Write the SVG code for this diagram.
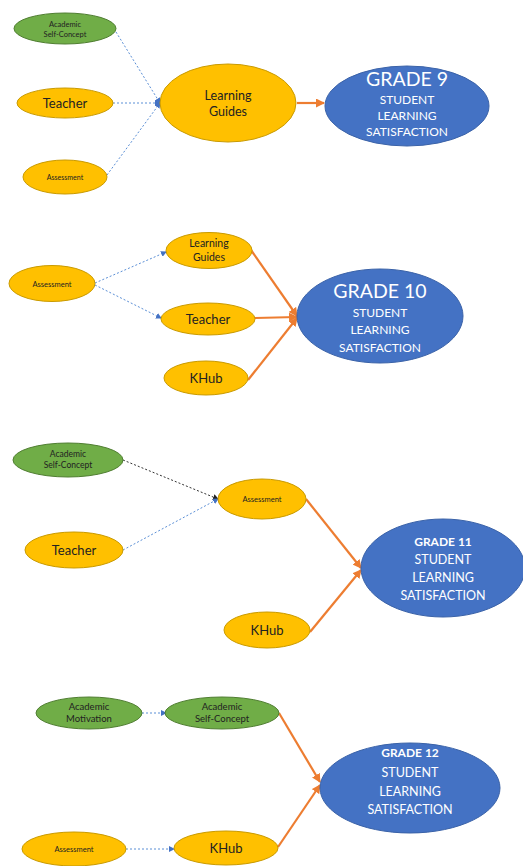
<svg xmlns="http://www.w3.org/2000/svg" width="523" height="866" viewBox="0 0 523 866">
<style>
.y{fill:#FFC000;stroke:#C99A00;stroke-width:1}
.g{fill:#70AD47;stroke:#507E32;stroke-width:1}
.b{fill:#4472C4;stroke:#3A62A8;stroke-width:1}
text{font-family:Lato,"Open Sans","Liberation Sans",sans-serif;text-anchor:middle;fill:#222}
.w{fill:#fff}
.dot{fill:none;stroke:#5B8FD6;stroke-width:1;stroke-dasharray:2 2}
.dk{fill:none;stroke:#333;stroke-width:1;stroke-dasharray:2 2}
.or{fill:none;stroke:#ED7D31;stroke-width:2.2}
</style>
<defs>
<marker id="ab" markerWidth="6" markerHeight="6" refX="5" refY="3" orient="auto" markerUnits="userSpaceOnUse"><path d="M0,0 L6,3 L0,6 Z" fill="#4472C4"/></marker>
<marker id="ak" markerWidth="6" markerHeight="6" refX="5" refY="3" orient="auto" markerUnits="userSpaceOnUse"><path d="M0,0 L6,3 L0,6 Z" fill="#222"/></marker>
<marker id="ao" markerWidth="9" markerHeight="9" refX="8" refY="4.5" orient="auto" markerUnits="userSpaceOnUse"><path d="M0,0 L9,4.5 L0,9 Z" fill="#ED7D31"/></marker>
</defs>

<g id="connectors">
<path class="dot" d="M116,32 L160,103" marker-end="url(#ab)"/>
<path class="dot" d="M113,103 L160,103" marker-end="url(#ab)"/>
<path class="dot" d="M107,175 L160,103" marker-end="url(#ab)"/>
<path class="or" d="M297,103 L324,103" marker-end="url(#ao)"/>
<path class="dot" d="M95,283 L166,252" marker-end="url(#ab)"/>
<path class="dot" d="M95,285 L161,318" marker-end="url(#ab)"/>
<path class="or" d="M251,250 L297,316" marker-end="url(#ao)"/>
<path class="or" d="M255,318 L297,317" marker-end="url(#ao)"/>
<path class="or" d="M248,380 L297,318" marker-end="url(#ao)"/>
<path class="dk" d="M123,460 L218,499" marker-end="url(#ak)"/>
<path class="dot" d="M123,550 L218,499" marker-end="url(#ab)"/>
<path class="or" d="M306,499 L361,568" marker-end="url(#ao)"/>
<path class="or" d="M310,632 L361,570" marker-end="url(#ao)"/>
<path class="dot" d="M142,713 L166,713" marker-end="url(#ab)"/>
<path class="dot" d="M126,849 L174,849" marker-end="url(#ab)"/>
<path class="or" d="M279,713 L320,782" marker-end="url(#ao)"/>
<path class="or" d="M278,847 L320,785" marker-end="url(#ao)"/>
</g>

<g id="g9-asc"><ellipse class="g" cx="65" cy="28.5" rx="51" ry="15.5"/><text x="65" y="27" font-size="7.5">Academic</text><text x="65" y="37" font-size="7.5">Self-Concept</text></g>
<g id="g9-teacher"><ellipse class="y" cx="65" cy="103" rx="48" ry="15"/><text x="65" y="107.5" font-size="13">Teacher</text></g>
<g id="g9-assessment"><ellipse class="y" cx="65" cy="177" rx="42" ry="17"/><text x="65" y="180" font-size="7">Assessment</text></g>
<g id="g9-lg"><ellipse class="y" cx="228" cy="103" rx="68" ry="39"/><text x="228" y="100" font-size="12.5">Learning</text><text x="228" y="116" font-size="12.5">Guides</text></g>
<g id="g9-grade"><ellipse class="b" cx="407" cy="106" rx="82" ry="40"/><text class="w" x="407" y="86" font-size="19.5">GRADE 9</text><text class="w" x="407" y="104" font-size="12">STUDENT</text><text class="w" x="407" y="120" font-size="12">LEARNING</text><text class="w" x="407" y="136" font-size="12">SATISFACTION</text></g>

<g id="g10-assessment"><ellipse class="y" cx="52" cy="283.5" rx="43" ry="18"/><text x="52" y="286.5" font-size="7.5">Assessment</text></g>
<g id="g10-lg"><ellipse class="y" cx="209" cy="250.5" rx="43" ry="18"/><text x="209" y="247" font-size="10.5">Learning</text><text x="209" y="261" font-size="10.5">Guides</text></g>
<g id="g10-teacher"><ellipse class="y" cx="208" cy="319" rx="47" ry="16"/><text x="208" y="323.5" font-size="13">Teacher</text></g>
<g id="g10-khub"><ellipse class="y" cx="206" cy="378" rx="42" ry="17"/><text x="206" y="382.5" font-size="13">KHub</text></g>
<g id="g10-grade"><ellipse class="b" cx="380" cy="316" rx="83" ry="47"/><text class="w" x="380" y="298" font-size="19.5">GRADE 10</text><text class="w" x="380" y="317" font-size="12">STUDENT</text><text class="w" x="380" y="334" font-size="12">LEARNING</text><text class="w" x="380" y="352" font-size="12">SATISFACTION</text></g>

<g id="g11-asc"><ellipse class="g" cx="68" cy="460" rx="55" ry="17"/><text x="68" y="457" font-size="8.5">Academic</text><text x="68" y="468" font-size="8.5">Self-Concept</text></g>
<g id="g11-assessment"><ellipse class="y" cx="262" cy="499" rx="44" ry="20"/><text x="262" y="502" font-size="7.5">Assessment</text></g>
<g id="g11-teacher"><ellipse class="y" cx="74" cy="550" rx="49" ry="18"/><text x="74" y="554.5" font-size="13">Teacher</text></g>
<g id="g11-khub"><ellipse class="y" cx="267" cy="630" rx="43" ry="18"/><text x="267" y="634.5" font-size="13">KHub</text></g>
<g id="g11-grade"><ellipse class="b" cx="443" cy="568" rx="82" ry="49"/><text class="w" x="443" y="546" font-size="12" font-weight="bold">GRADE 11</text><text class="w" x="443" y="564" font-size="12.5">STUDENT</text><text class="w" x="443" y="582" font-size="12.5">LEARNING</text><text class="w" x="443" y="600" font-size="12.5">SATISFACTION</text></g>

<g id="g12-am"><ellipse class="g" cx="89" cy="713" rx="53" ry="16"/><text x="89" y="710" font-size="9.5">Academic</text><text x="89" y="722" font-size="9.5">Motivation</text></g>
<g id="g12-asc"><ellipse class="g" cx="222" cy="713" rx="57" ry="16"/><text x="222" y="710" font-size="9.5">Academic</text><text x="222" y="722" font-size="9.5">Self-Concept</text></g>
<g id="g12-assessment"><ellipse class="y" cx="74" cy="849" rx="52" ry="17"/><text x="74" y="852" font-size="7.5">Assessment</text></g>
<g id="g12-khub"><ellipse class="y" cx="226" cy="848" rx="52" ry="17"/><text x="226" y="852.5" font-size="13">KHub</text></g>
<g id="g12-grade"><ellipse class="b" cx="410" cy="788" rx="90" ry="45"/><text class="w" x="410" y="757" font-size="12" font-weight="bold">GRADE 12</text><text class="w" x="410" y="777" font-size="12.5">STUDENT</text><text class="w" x="410" y="796" font-size="12.5">LEARNING</text><text class="w" x="410" y="814" font-size="12.5">SATISFACTION</text></g>
</svg>
